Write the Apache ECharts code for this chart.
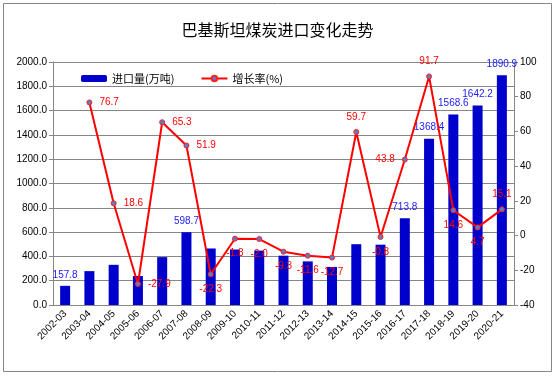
<!DOCTYPE html>
<html lang="zh">
<head>
  <meta charset="UTF-8">
  <title>巴基斯坦煤炭进口变化走势</title>
  <style>
    html, body { margin: 0; padding: 0; background: #fff; }
    #main { width: 555px; height: 377px; }
  </style>
</head>
<body>
<div id="main"></div>
<script src="https://cdn.jsdelivr.net/npm/echarts@6/dist/echarts.min.js"></script>
<script>
  // 年度
  var years = ['2002-03', '2003-04', '2004-05', '2005-06', '2006-07', '2007-08', '2008-09',
    '2009-10', '2010-11', '2011-12', '2012-13', '2013-14', '2014-15', '2015-16',
    '2016-17', '2017-18', '2018-19', '2019-20', '2020-21'];
  // 进口量(万吨)
  var imports = [157.8, 278.8, 330.7, 238.4, 394.1, 598.7, 465.2, 456.8, 447.7, 406.0,
    358.9, 313.3, 500.4, 496.4, 713.8, 1368.4, 1568.6, 1642.2, 1890.9];
  // 增长率(%)
  var growth = [null, 76.7, 18.6, -27.9, 65.3, 51.9, -22.3, -1.8, -2.0, -9.3,
    -11.6, -12.7, 59.7, -0.8, 43.8, 91.7, 14.6, 4.7, 15.1];

  // 只标注部分柱子
  var labeledYears = ['2002-03', '2007-08', '2016-17', '2017-18', '2018-19', '2019-20', '2020-21'];
  // 增长率标签位置
  var ratePos = [null, 'right', 'right', 'right', 'right', 'right', 'bottom',
    'bottom', 'bottom', 'bottom', 'bottom', 'bottom', 'top', 'bottom',
    'left', 'top', 'bottom', 'bottom', 'top'];

  var chart = echarts.init(document.getElementById('main'));
  var gray = '#868686';
  var font = 'Liberation Sans';

  var option = {
    backgroundColor: '#fff',
    animation: false,
    graphic: [{
      type: 'rect',
      shape: { x: 3.5, y: 3.5, width: 548, height: 368 },
      style: { fill: 'none', stroke: gray, lineWidth: 1 }
    }],
    title: {
      text: '巴基斯坦煤炭进口变化走势',
      left: 'center',
      top: 17,
      textStyle: { fontFamily: 'Noto Sans CJK SC', fontSize: 16, fontWeight: 'normal', color: '#000' }
    },
    legend: {
      left: 76,
      top: 68,
      itemWidth: 26,
      itemHeight: 7,
      itemGap: 26,
      textStyle: { fontFamily: 'Noto Sans CJK SC', fontSize: 11, color: '#000' },
      data: ['进口量(万吨)', '增长率(%)']
    },
    grid: { left: 53, right: 41, top: 62, bottom: 72 },
    xAxis: {
      type: 'category',
      data: years,
      axisLine: { lineStyle: { color: gray } },
      axisTick: { length: 4, lineStyle: { color: gray } },
      axisLabel: { rotate: 45, interval: 0, fontFamily: font, fontSize: 10, color: '#000', margin: 7 }
    },
    yAxis: [{
      type: 'value',
      min: 0, max: 2000, interval: 200,
      axisLine: { show: true, lineStyle: { color: gray } },
      axisTick: { show: true, length: 4, lineStyle: { color: gray } },
      splitLine: { lineStyle: { color: gray } },
      axisLabel: { fontFamily: font, fontSize: 10, color: '#000', margin: 6,
        formatter: function (v) { return v.toFixed(1); } }
    }, {
      type: 'value',
      min: -40, max: 100, interval: 20,
      axisLine: { show: true, lineStyle: { color: gray } },
      axisTick: { show: true, length: 4, lineStyle: { color: gray } },
      splitLine: { show: false },
      axisLabel: { fontFamily: font, fontSize: 10, color: '#000', margin: 6 }
    }],
    series: [{
      name: '进口量(万吨)',
      type: 'bar',
      barWidth: 10,
      itemStyle: { color: '#0000CC' },
      data: imports.map(function (v, i) {
        return {
          value: v,
          label: { show: labeledYears.indexOf(years[i]) >= 0 }
        };
      }),
      label: {
        position: 'top', distance: 6, color: '#2020ff',
        fontFamily: font, fontSize: 10,
        formatter: function (p) { return p.value.toFixed(1); }
      }
    }, {
      name: '增长率(%)',
      type: 'line',
      yAxisIndex: 1,
      symbol: 'circle',
      symbolSize: 5,
      connectNulls: false,
      lineStyle: { color: '#ff0000', width: 2 },
      itemStyle: { color: '#5a7cc4', borderColor: '#ff2020', borderWidth: 1 },
      data: growth.map(function (v, i) {
        return {
          value: v,
          label: { position: ratePos[i] || 'top' }
        };
      }),
      label: {
        show: true, distance: 7, color: '#ff0000',
        fontFamily: font, fontSize: 10,
        formatter: function (p) { return p.value.toFixed(1); }
      }
    }]
  };

  chart.setOption(option);
</script>
</body>
</html>
